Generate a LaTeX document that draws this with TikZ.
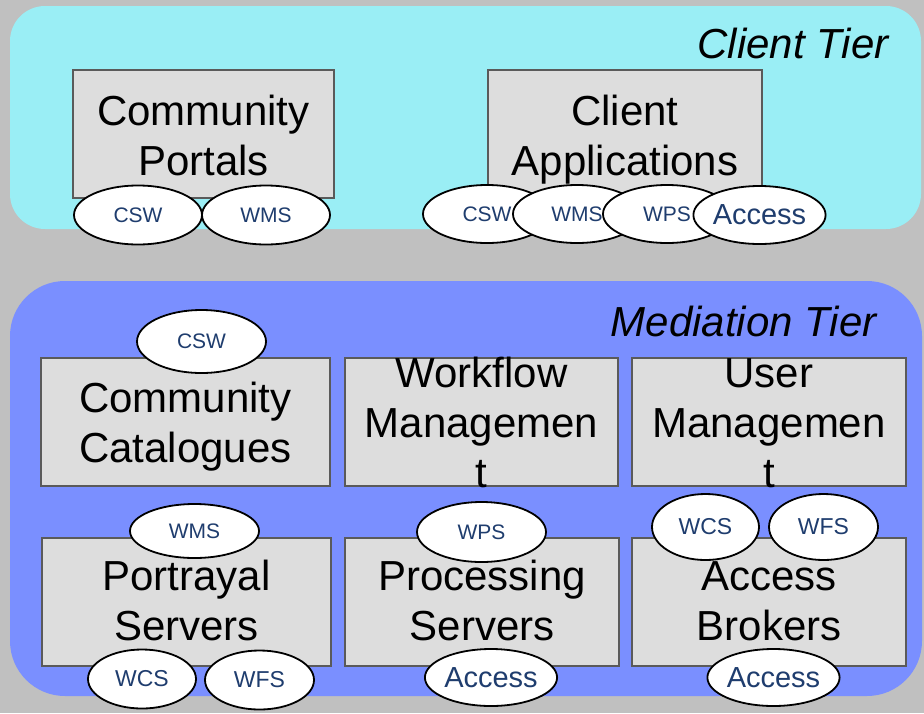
\documentclass[tikz,border=0pt]{standalone}
\usepackage{fontspec}
\setmainfont{Liberation Sans}
\usetikzlibrary{shapes.geometric}
\definecolor{bg}{RGB}{192,192,192}
\definecolor{clientfill}{RGB}{154,238,245}
\definecolor{mediafill}{RGB}{122,143,255}
\definecolor{boxfill}{RGB}{221,221,221}
\definecolor{boxline}{RGB}{90,90,90}
\definecolor{svctext}{RGB}{31,61,110}
\begin{document}
\begin{tikzpicture}[x=1pt,y=-1pt,
  tierlabel/.style={anchor=base east,font=\itshape\fontsize{42}{50}\selectfont},
  compbox/.style={draw=boxline,line width=2pt,fill=boxfill,inner sep=0pt,
    minimum width=#1,minimum height=128pt},
  compline/.style={anchor=base,inner sep=0pt,font=\fontsize{42}{50}\selectfont},
  svc/.style={ellipse,draw=black,line width=1.8pt,fill=white,inner sep=0pt,
    text=svctext,font=\fontsize{21}{25}\selectfont},
  svcmid/.style={svc,font=\fontsize{23}{27}\selectfont},
  svcbig/.style={svc,font=\fontsize{29}{34}\selectfont}]
\useasboundingbox[fill=bg] (0,0) rectangle (924,713);

% tier panels
\fill[clientfill,rounded corners=35pt] (10,6) rectangle (921,229);
\fill[mediafill,rounded corners=55pt] (10,281) rectangle (922,696);
\node[tierlabel] (clienttier) at (892,58) {Client Tier};
\node[tierlabel] (mediatier) at (880,336) {Mediation Tier};

% client tier components
\node[compbox=261pt] (portals) at (203.5,134) {};
\node[compline] (portals-l1) at (203.5,125) {Community};
\node[compline] (portals-l2) at (203.5,175) {Portals};
\node[compbox=274pt] (apps) at (625,134) {};
\node[compline] (apps-l1) at (625,125) {Client};
\node[compline] (apps-l2) at (625,175) {Applications};

% mediation tier components, upper row
\node[compbox=289pt] (catalogues) at (185.5,422) {};
\node[compline] (catalogues-l1) at (185.5,412) {Community};
\node[compline] (catalogues-l2) at (185.5,462) {Catalogues};
\node[compbox=273pt] (workflow) at (481.5,422) {};
\node[compline] (workflow-l1) at (481.5,387) {Workflow};
\node[compline] (workflow-l2) at (481.5,437) {Managemen};
\node[compline] (workflow-l3) at (481.5,487) {t};
\node[compbox=274pt] (users) at (769,422) {};
\node[compline] (users-l1) at (769,387) {User};
\node[compline] (users-l2) at (769,437) {Managemen};
\node[compline] (users-l3) at (769,487) {t};

% mediation tier components, lower row
\node[compbox=289pt] (portrayal) at (186.5,602) {};
\node[compline] (portrayal-l1) at (186.5,590) {Portrayal};
\node[compline] (portrayal-l2) at (186.5,640) {Servers};
\node[compbox=274pt] (processing) at (482,602) {};
\node[compline] (processing-l1) at (482,590) {Processing};
\node[compline] (processing-l2) at (482,640) {Servers};
\node[compbox=274pt] (brokers) at (769,602) {};
\node[compline] (brokers-l1) at (769,590) {Access};
\node[compline] (brokers-l2) at (769,640) {Brokers};

% service interfaces of the client tier
\node[svc,minimum width=128pt,minimum height=59pt] (p-csw) at (138,215) {CSW};
\node[svc,minimum width=128pt,minimum height=59pt] (p-wms) at (266,215) {WMS};
\node[svc,minimum width=128pt,minimum height=58pt] (a-csw) at (487,214) {CSW};
\node[svc,minimum width=128pt,minimum height=58pt] (a-wms) at (577,214) {WMS};
\node[svc,minimum width=128pt,minimum height=58pt] (a-wps) at (667,214) {WPS};
\node[svcbig,minimum width=129pt,minimum height=58pt] (a-acc) at (759.5,215) {Access};

% service interfaces of the mediation tier
\node[svc,minimum width=129pt,minimum height=63pt] (c-csw) at (201.5,341.5) {CSW};
\node[svc,minimum width=129pt,minimum height=54pt] (s-wms) at (194.5,531) {WMS};
\node[svc,minimum width=129pt,minimum height=60pt] (s-wps) at (481.5,532) {WPS};
\node[svcmid,minimum width=107pt,minimum height=66pt] (b-wcs) at (705.5,527) {WCS};
\node[svcmid,minimum width=109pt,minimum height=66pt] (b-wfs) at (823.5,527) {WFS};
\node[svcmid,minimum width=108pt,minimum height=59pt] (s-wcs) at (142,679) {WCS};
\node[svcmid,minimum width=109pt,minimum height=59pt] (s-wfs) at (259.5,680) {WFS};
\node[svcbig,minimum width=128pt,minimum height=57pt] (pr-acc) at (491,677.5) {Access};
\node[svcbig,minimum width=127pt,minimum height=57pt] (b-acc) at (773.5,677.5) {Access};
\end{tikzpicture}
\end{document}
